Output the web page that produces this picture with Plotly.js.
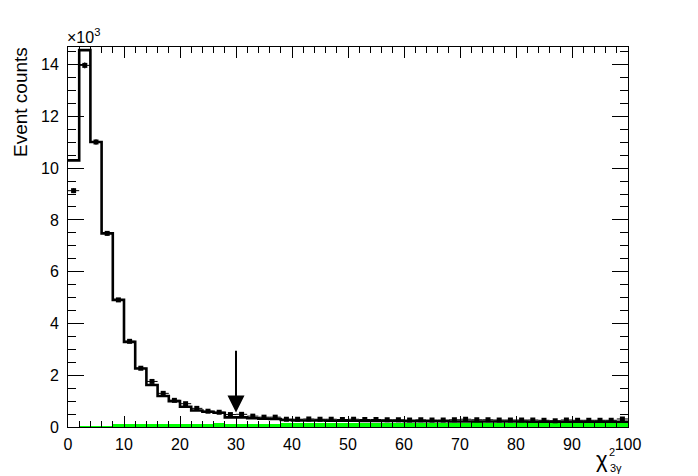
<!DOCTYPE html>
<html>
<head>
<meta charset="utf-8">
<script src="https://cdn.plot.ly/plotly-3.0.1.min.js"></script>
<style>html,body{margin:0;padding:0;background:#fff;}#plot{width:698px;height:476px;}</style>
</head>
<body>
<div id="plot"></div>
<script>
// bin centres (bin width 2, range 0-100)
const binCenters = [1,3,5,7,9,11,13,15,17,19,21,23,25,27,29,31,33,35,37,39,41,43,45,47,49,
  51,53,55,57,59,61,63,65,67,69,71,73,75,77,79,81,83,85,87,89,91,93,95,97,99];
const binWidth = 2;
// data (points)
const dataCounts = [9130,13970,11010,7480,4910,3310,2270,1760,1300,1030,900,720,610,570,480,490,420,380,380,300,
  300,310,300,300,290,300,290,290,280,280,270,280,270,270,280,300,280,280,270,270,
  270,270,260,240,270,260,260,260,260,310];
// total simulation (black step histogram)
const mcTotal = [10300,14560,11010,7480,4910,3290,2260,1620,1200,1000,780,640,590,550,370,370,340,320,310,270,
  250,250,250,240,240,240,230,230,230,230,220,220,220,220,210,210,210,210,210,210,
  210,200,200,200,200,200,200,200,200,200];
// background (green filled histogram)
const background = [0,50,55,55,100,105,105,105,105,110,110,110,115,170,115,120,120,130,130,140,
  150,160,150,170,150,150,160,170,160,160,160,160,170,160,170,170,180,170,170,170,
  180,170,180,190,170,180,180,180,190,190];
const yTickVals = [0,2000,4000,6000,8000,10000,12000,14000];
const yTickText = ['0','2','4','6','8','10','12','14'];
const cutValue = 30;

// step edges derived from the bin centres
const stepX = binCenters.map(c => c - binWidth/2).concat([binCenters[binCenters.length-1] + binWidth/2]);
const stepY = mcTotal.concat([mcTotal[mcTotal.length-1]]);

const font = 'Liberation Sans, Arial, Helvetica, sans-serif';

const traces = [
  {type:'bar', x: binCenters, y: background, width: binWidth,
   marker:{color:'#00ff00', line:{width:0}}, hoverinfo:'skip', showlegend:false},
  {type:'scatter', mode:'lines', x: stepX, y: stepY, line:{shape:'hv', color:'#000', width:2.6},
   hoverinfo:'skip', showlegend:false},
  {type:'scatter', mode:'markers', x: binCenters, y: dataCounts,
   marker:{symbol:'square', size:5, color:'#000'},
   error_x:{type:'constant', value: binWidth/2, width:0, thickness:1, color:'#000'},
   error_y:{type:'sqrt', width:0, thickness:1, color:'#000'},
   showlegend:false}
];

const PL = 68, PW = 560, PT = 47, PH = 380;
const px = p => (p - PL) / PW;
const py = p => (PT + PH - p) / PH;

const layout = {
  width: 698, height: 476,
  margin: {l: PL, r: 698 - PL - PW, t: PT, b: 476 - PT - PH, pad: 0},
  paper_bgcolor: '#fff', plot_bgcolor: '#fff',
  bargap: 0, showlegend: false,
  font: {family: font, color: '#000', size: 16},
  xaxis: {range: [0, 100], dtick: 10, tick0: 0, ticks: 'inside', ticklen: 11, tickwidth: 1, tickcolor: '#000',
    minor: {dtick: 2, ticks: 'inside', ticklen: 6, tickwidth: 1, tickcolor: '#000', showgrid: false},
    showline: true, linecolor: '#000', linewidth: 1, mirror: 'allticks', showgrid: false, zeroline: false,
    tickfont: {family: font, size: 16, color: '#000'}, ticklabelstandoff: 3},
  yaxis: {range: [0, 14680], tickvals: yTickVals, ticktext: yTickText, ticks: 'inside', ticklen: 16, tickwidth: 1, tickcolor: '#000',
    minor: {dtick: 500, ticks: 'inside', ticklen: 8, tickwidth: 1, tickcolor: '#000', showgrid: false},
    showline: true, linecolor: '#000', linewidth: 1, mirror: 'allticks', showgrid: false, zeroline: false,
    tickfont: {family: font, size: 16, color: '#000'}, ticklabelstandoff: 5},
  annotations: [
    {x: cutValue, y: 560, ax: cutValue, ay: 3000, xref: 'x', yref: 'y', axref: 'x', ayref: 'y',
     text: '', showarrow: true, arrowhead: 2, arrowsize: 1.7, arrowwidth: 2, arrowcolor: '#000', standoff: 0},
    {xref: 'paper', yref: 'paper', x: px(20), y: py(102), text: 'Event counts', textangle: -90,
     showarrow: false, xanchor: 'center', yanchor: 'middle', font: {family: font, size: 19, color: '#000'}},
    {xref: 'paper', yref: 'paper', x: px(65), y: py(48), text: '×10<sup>3</sup>', showarrow: false,
     xanchor: 'left', yanchor: 'bottom', font: {family: font, size: 16, color: '#000'}},
    {xref: 'paper', yref: 'paper', x: px(602), y: py(459), text: 'χ', showarrow: false,
     xanchor: 'center', yanchor: 'middle', font: {family: font, size: 22, color: '#000'}},
    {xref: 'paper', yref: 'paper', x: px(611.5), y: py(452), text: '2', showarrow: false,
     xanchor: 'center', yanchor: 'middle', font: {family: font, size: 11, color: '#000'}},
    {xref: 'paper', yref: 'paper', x: px(616), y: py(468), text: '3γ', showarrow: false,
     xanchor: 'center', yanchor: 'middle', font: {family: font, size: 11, color: '#000'}}
  ]
};

Plotly.newPlot('plot', traces, layout, {staticPlot: true, displayModeBar: false});
</script>
</body>
</html>
